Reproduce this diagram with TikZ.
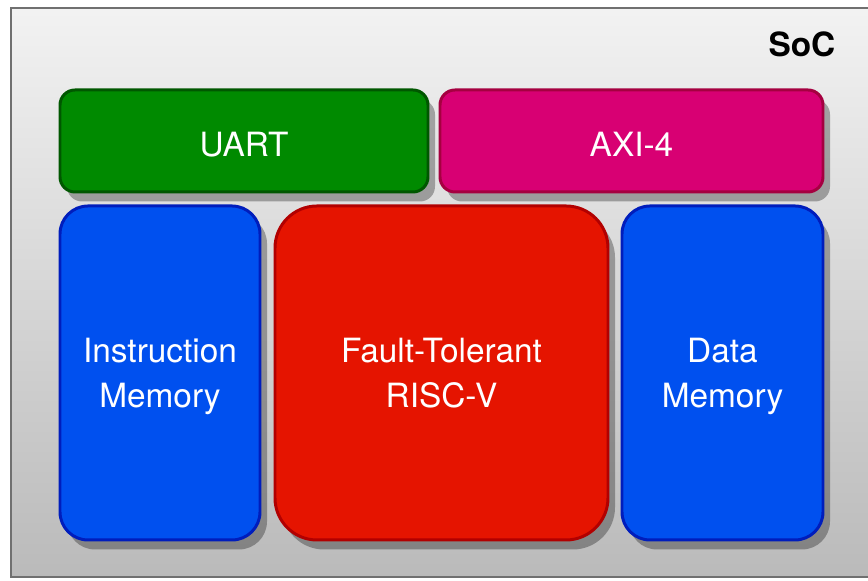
\documentclass[tikz,border=0pt]{standalone}
\usepackage{fontspec}
\setmainfont{TeX Gyre Heros}
\usepackage{tikz}
\usetikzlibrary{shapes,positioning,shadows}
\usepackage{xcolor}
\definecolor{socgreen}{RGB}{0,138,0}
\definecolor{socgreenline}{RGB}{0,87,0}
\definecolor{socpink}{RGB}{216,0,115}
\definecolor{socpinkline}{RGB}{165,0,64}
\definecolor{socblue}{RGB}{0,80,239}
\definecolor{socblueline}{RGB}{0,29,188}
\definecolor{socred}{RGB}{229,20,0}
\definecolor{socredline}{RGB}{178,0,0}
\definecolor{socframe}{RGB}{112,112,112}
\tikzstyle{block} = [draw, line width=0.85pt, inner sep=0pt, text=white, align=center,
  font=\fontsize{9.5}{13}\selectfont, text depth=0pt,
  execute at begin node={\rule{0pt}{8.8pt}},
  drop shadow={shadow xshift=0.07cm, shadow yshift=-0.095cm, opacity=0.3, fill=black}]

\begin{document}
\begin{tikzpicture}
\useasboundingbox (0,0) rectangle (8.68,5.81);
% SoC frame
\draw[socframe, line width=0.75pt, top color=black!5, bottom color=black!27]
  (0.11,0.04) rectangle (8.78,5.73);
\node[anchor=base east, inner sep=0pt, font=\fontsize{9.5}{13}\selectfont\bfseries] (soc) at (8.36,5.24) {SoC};

% Top row
\node[block, fill=socgreen, draw=socgreenline, rounded corners=0.15cm,
  minimum width=3.68cm, minimum height=1.02cm] (uart) at (2.44,4.40) {UART};
\node[block, fill=socpink, draw=socpinkline, rounded corners=0.15cm,
  minimum width=3.83cm, minimum height=1.02cm] (axi) at (6.315,4.40) {AXI-4};

% Bottom row
\node[block, fill=socblue, draw=socblueline, rounded corners=0.28cm,
  minimum width=2.00cm, minimum height=3.34cm] (imem) at (1.60,2.08) {Instruction\\Memory};
\node[block, fill=socred, draw=socredline, rounded corners=0.42cm,
  minimum width=3.33cm, minimum height=3.34cm] (cpu) at (4.415,2.08) {Fault-Tolerant\\RISC-V};
\node[block, fill=socblue, draw=socblueline, rounded corners=0.28cm,
  minimum width=2.01cm, minimum height=3.34cm] (dmem) at (7.225,2.08) {Data\\Memory};
\end{tikzpicture}
\end{document}
